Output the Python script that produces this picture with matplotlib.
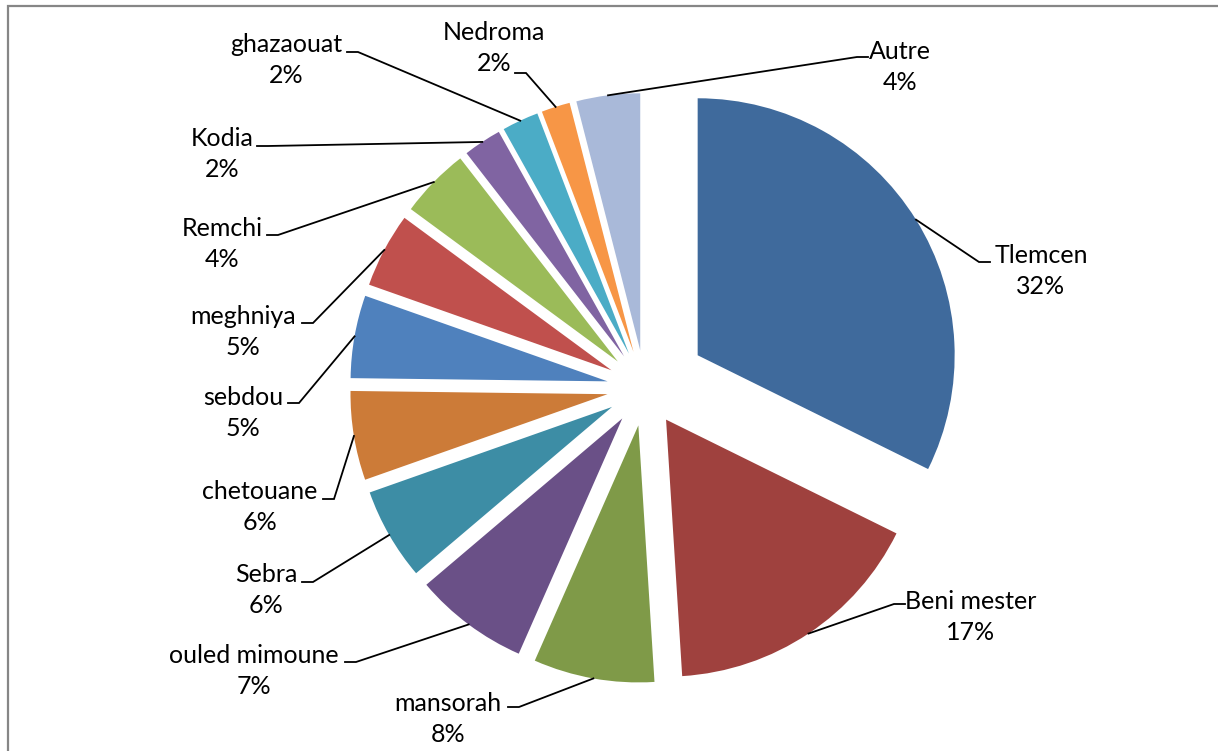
import numpy as np
import matplotlib
matplotlib.use("Agg")
import matplotlib.pyplot as plt

# ── Data ──────────────────────────────────────────────────────────────────────
communes = ["Tlemcen", "Beni mester", "mansorah", "ouled mimoune", "Sebra",
            "chetouane", "sebdou", "meghniya", "Remchi", "Kodia",
            "ghazaouat", "Nedroma", "Autre"]
shares = [32.3, 16.7, 7.6, 7.2, 5.8, 5.6, 5.2, 4.7, 4.4, 2.4, 2.3, 1.8, 4.0]

colors = ["#3F6A9C", "#9F413E", "#7F9A48", "#6A5087", "#3D8DA5", "#CC7B38",
          "#4F81BD", "#C0504D", "#9BBB59", "#8064A2", "#4BACC6", "#F79646",
          "#A9B9D9"]
# pie offsets in pixels (pie() takes them in data units, and data units are px)
explode = [62] + [38] * 12

# label layout (pixel coords, y from top): text centre, end of the short stub
label_xy = [(1041, 271), (971, 617), (448, 719), (254, 671), (266, 590),
            (260, 507), (243, 413), (243, 332), (222, 244), (222, 154),
            (286, 60), (494, 48), (900, 67)]
stub_end = [(990, 262), (905, 604), (508, 707), (345, 662), (302, 582),
            (323, 499), (288, 403), (302, 323), (267, 235), (257, 146),
            (347, 52), (515, 73), (868, 57)]

W, H = 1218, 751
FONT = ["Lato", "DejaVu Sans"]

fig = plt.figure(figsize=(W / 100, H / 100), dpi=100)
ax = fig.add_axes([0, 0, 1, 1])

# y axis runs downward, so counterclock=True draws clockwise on screen
wedges, _ = ax.pie(shares, explode=explode, colors=colors, startangle=-90,
                   counterclock=True, center=(645, 388), radius=257,
                   frame=True, wedgeprops=dict(linewidth=0))

ax.set_xlim(0, W)
ax.set_ylim(H, 0)
ax.set_aspect("equal")
ax.axis("off")

for w, name, v, (tx, ty), (sx, sy) in zip(wedges, communes, shares,
                                           label_xy, stub_end):
    mid = np.deg2rad((w.theta1 + w.theta2) / 2)
    cx, cy = w.center
    px, py = cx + w.r * np.cos(mid), cy + w.r * np.sin(mid)
    # stub points toward the text
    ex = sx - 11 if tx > sx else sx + 11
    ax.plot([px, ex, sx], [py, sy, sy], color="black", lw=1.3,
            solid_joinstyle="miter", zorder=3)
    ax.text(tx, ty, f"{name}\n{v:.0f}%", ha="center", va="center",
            multialignment="center", fontsize=18, family=FONT,
            linespacing=1.45, color="black")

# chart frame
ax.plot([7.5, 7.5, W], [H, 5.5, 5.5], color="#868686", lw=1.6,
        solid_joinstyle="miter", clip_on=False)

fig.savefig("out.png", dpi=100)
